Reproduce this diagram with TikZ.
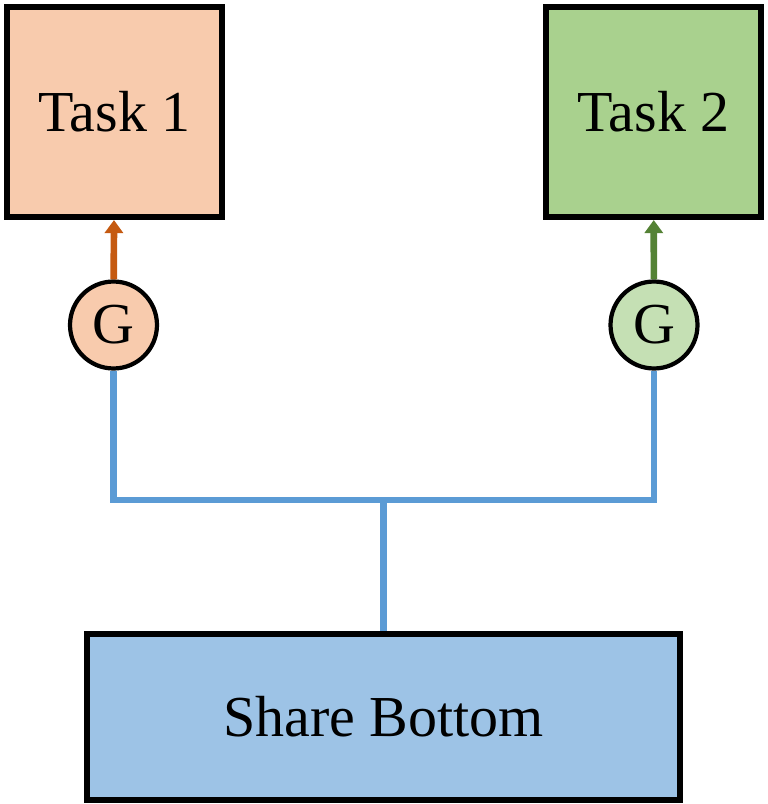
\documentclass[tikz,border=0pt]{standalone}
\usepackage{fontspec}
\setmainfont{Liberation Serif}
\usepackage{tikz}
\usetikzlibrary{arrows.meta,positioning}
\definecolor{taskpeach}{RGB}{248,203,173}
\definecolor{taskgreen}{RGB}{169,209,142}
\definecolor{gatepeach}{RGB}{248,203,173}
\definecolor{gategreen}{RGB}{197,224,180}
\definecolor{sharefill}{RGB}{157,195,230}
\definecolor{shareline}{RGB}{91,155,213}
\definecolor{arroworange}{RGB}{197,90,17}
\definecolor{arrowgreen}{RGB}{84,130,53}

\begin{document}
\begin{tikzpicture}[
    x=0.02cm, y=-0.02cm,
    every node/.style={font=\rmfamily\fontsize{33}{39}\selectfont},
    task/.style={draw=black, line width=3.5pt, minimum width=4.3cm, minimum height=4.2cm},
    gate/.style={draw=black, line width=2.4pt, circle, minimum size=1.74cm, inner sep=0pt},
    bottombox/.style={draw=black, line width=3.5pt, fill=sharefill, minimum width=11.86cm, minimum height=3.32cm},
    arrow/.style={-{Triangle[length=0.26cm, width=0.36cm]}, line width=3.8pt},
    share/.style={shareline, line width=3.6pt}
  ]
    \useasboundingbox (0,0) rectangle (767,804);

    \node[task, fill=taskpeach] (task1) at (114.5,112) {Task 1};
    \node[task, fill=taskgreen] (task2) at (653.5,112) {Task 2};
    \node[gate, fill=gatepeach] (gate1) at (113.5,325) {G};
    \node[gate, fill=gategreen] (gate2) at (654,325) {G};
    \node[bottombox] (bottom) at (383.5,717) {Share Bottom};
    \coordinate (split) at (383.5,500);

    \draw[arrow, arroworange] (gate1) -- (task1);
    \draw[arrow, arrowgreen] (gate2) -- (task2);
    \draw[share] (gate1.south) |- (split) -| (gate2.south);
    \draw[share] (split) -- (bottom.north);
  \end{tikzpicture}
\end{document}
